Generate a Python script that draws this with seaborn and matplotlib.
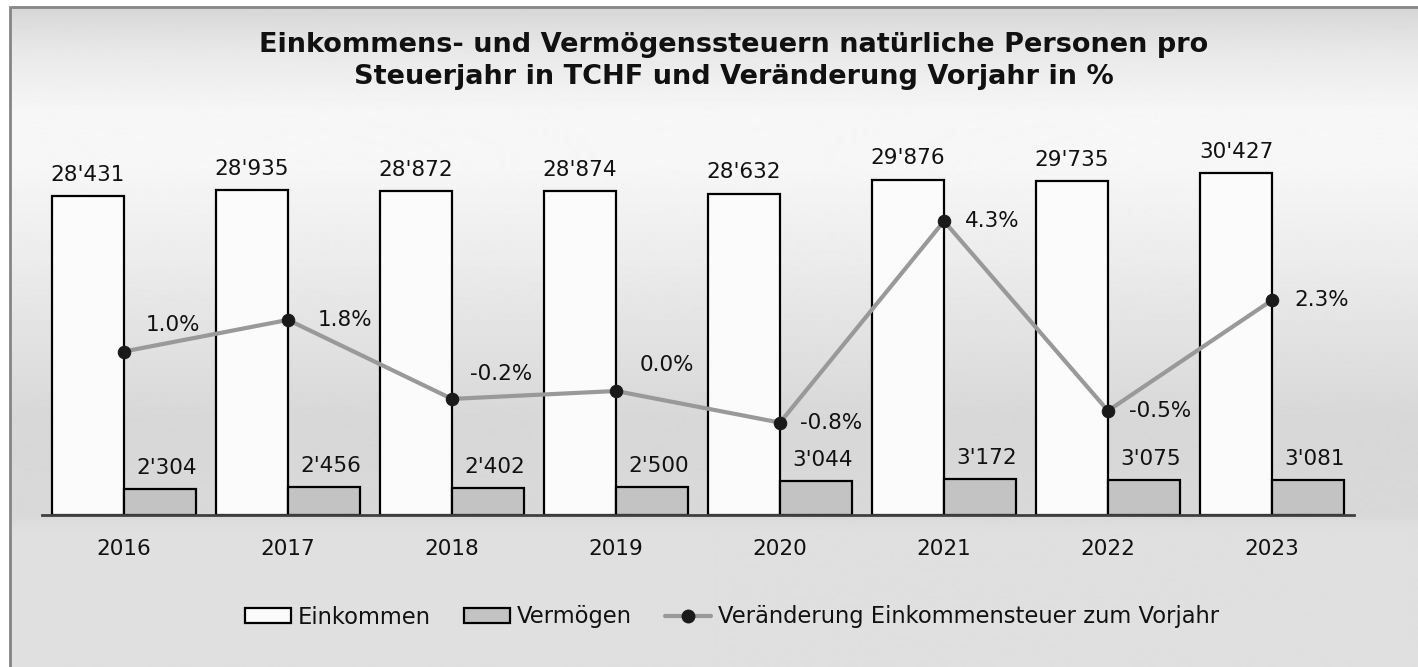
import numpy as np
import pandas as pd
import matplotlib
matplotlib.use("Agg")
import matplotlib.pyplot as plt
import seaborn as sns
from matplotlib.patches import Patch, Rectangle
from matplotlib.lines import Line2D

# Data (TCHF and % change)
years = ['2016', '2017', '2018', '2019', '2020', '2021', '2022', '2023']
einkommen = [28431, 28935, 28872, 28874, 28632, 29876, 29735, 30427]
vermoegen = [2304, 2456, 2402, 2500, 3044, 3172, 3075, 3081]
veraenderung = [1.0, 1.8, -0.2, 0.0, -0.8, 4.3, -0.5, 2.3]

series_names = ['Einkommen', 'Vermögen']
line_name = 'Veränderung Einkommensteuer zum Vorjahr'
title = ('Einkommens- und Vermögenssteuern natürliche Personen pro\n'
         'Steuerjahr in TCHF und Veränderung Vorjahr in %')

# label offsets for the % labels (pixels: dx, dy up)
pct_offsets = [(22, 27), (30, 0), (18, 25), (24, 26), (20, 0), (21, 0), (21, 0), (22, 0)]

W, H, DPI = 1418, 667, 100
FONT = 15.5
TXT = '#111111'


def fmt(v):
    return f"{v:,}".replace(",", "'")


df = pd.DataFrame({
    'Jahr': years * 2,
    'Wert': einkommen + vermoegen,
    'Art': [series_names[0]] * len(years) + [series_names[1]] * len(years),
})

sns.set_style("white")
plt.rcParams['font.family'] = ['DejaVu Sans']

fig = plt.figure(figsize=(W / DPI, H / DPI), dpi=DPI)

# background gradient of the chart area
bg = fig.add_axes([10 / W, 0, 1 - 10 / W, 1 - 7 / H], zorder=-5)
stops_px = [7, 50, 110, 170, 260, 420, 515, 530, 667]
stops_lv = [0.84, 0.91, 0.965, 0.965, 0.925, 0.845, 0.85, 0.875, 0.875]
rows = np.arange(7, 668)
grad = np.interp(rows, stops_px, stops_lv)[:, None]
bg.imshow(grad, aspect='auto', cmap='gray', vmin=0, vmax=1, extent=[0, 1, 0, 1])
bg.axis('off')
fig.patches.append(Rectangle((10 / W, -0.1), 1.2, 1 - 7 / H + 0.1, transform=fig.transFigure,
                             fill=False, edgecolor='#858585', linewidth=2, zorder=10))

# main axes
x0, x1 = 42 / W, 1354 / W
y0, y1 = 1 - 515 / H, 1 - 122 / H
ax = fig.add_axes([x0, y0, x1 - x0, y1 - y0])
ax.patch.set_visible(False)

sns.barplot(data=df, x='Jahr', y='Wert', hue='Art',
            palette=['#fbfbfb', '#c3c3c3'], edgecolor='black', linewidth=1.6,
            width=0.878, gap=0, legend=False, ax=ax)
ax.set_xlim(-0.5, len(years) - 0.5)
ax.set_ylim(0, 35000)

pt = 72 / DPI
for i, cont in enumerate(ax.containers):
    vals = einkommen if i == 0 else vermoegen
    texts = ax.bar_label(cont, labels=[fmt(v) for v in vals],
                         padding=8, fontsize=FONT, color=TXT)
    if i == 1:
        for t in texts:
            t.xyann = (7 * pt, 8)

for s in ['top', 'left', 'right']:
    ax.spines[s].set_visible(False)
ax.spines['bottom'].set_color('#404040')
ax.spines['bottom'].set_linewidth(2)
ax.set_yticks([])
ax.set_xlabel('')
ax.set_ylabel('')
ax.set_xticks(np.arange(-0.5, len(years)), minor=True)
ax.tick_params(axis='x', which='minor', length=6, width=2, color='#404040', direction='out')
ax.tick_params(axis='x', which='major', length=0, pad=17, labelsize=FONT, labelcolor=TXT)

# secondary axis with the change line
ax2 = ax.twinx()
ax2.patch.set_visible(False)
sns.lineplot(x=np.arange(len(years)), y=veraenderung, ax=ax2, color='#999999',
             linewidth=3, marker='o', markersize=9, markerfacecolor='#1a1a1a',
             markeredgecolor='#1a1a1a')
ax2.set_ylim(-3.139, 6.81)
ax2.set_xlim(-0.5, len(years) - 0.5)
ax2.axis('off')

for i, v in enumerate(veraenderung):
    dx, dy = pct_offsets[i]
    ax2.annotate(f"{v:.1f}%", (i, v), xytext=(dx * pt, dy * pt), textcoords='offset points',
                 ha='left', va='center', fontsize=FONT, color=TXT)

# title
fig.text(734 / W, 1 - 61 / H, title, ha='center', va='center', fontsize=19.5,
         fontweight='bold', linespacing=1.32, color=TXT)

# legend
handles = [
    Patch(facecolor='#fbfbfb', edgecolor='black', linewidth=1.6),
    Patch(facecolor='#c3c3c3', edgecolor='black', linewidth=1.6),
    Line2D([], [], color='#999999', linewidth=3, marker='o', markersize=9,
           markerfacecolor='#1a1a1a', markeredgecolor='#1a1a1a'),
]
fig.legend(handles, series_names + [line_name], loc='center', ncol=3,
           bbox_to_anchor=(732 / W, 1 - 617 / H), frameon=False, fontsize=16.3,
           labelcolor=TXT, handlelength=2.0, handleheight=0.6, handletextpad=0.3,
           columnspacing=1.5)

fig.savefig('out.png', dpi=DPI)
